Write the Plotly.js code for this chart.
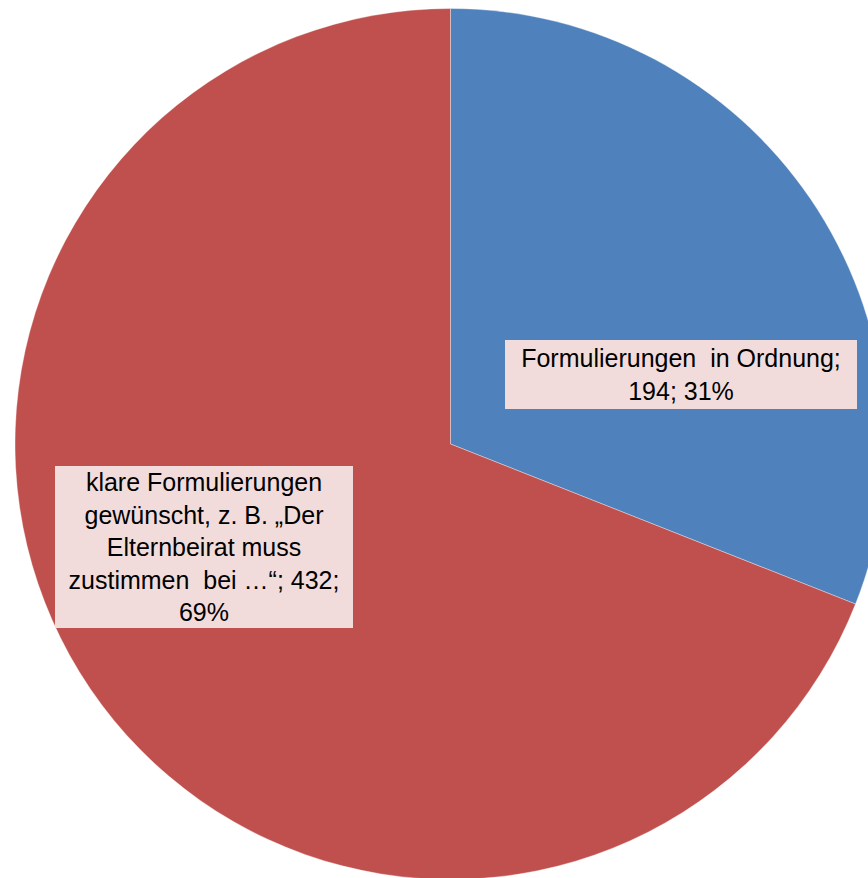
<!DOCTYPE html>
<html>
<head>
<meta charset="utf-8">
<script src="https://cdn.plot.ly/plotly-3.0.1.min.js"></script>
<style>
html, body { margin: 0; padding: 0; overflow: hidden; background: #ffffff; }
#chart { width: 900px; height: 880px; }
</style>
</head>
<body>
<div id="chart"></div>
<script>
// Data
const categories = [
  "Formulierungen  in Ordnung",
  "klare Formulierungen gewünscht, z. B. „Der Elternbeirat muss zustimmen bei …“"
];
const labelLines = [
  ["Formulierungen  in Ordnung;"],
  ["klare Formulierungen", "gewünscht, z. B. „Der", "Elternbeirat muss", "zustimmen  bei …“;"]
];
const values = [194, 432];
const colors = ["#4F81BD", "#C0504D"];

const total = values.reduce((a, b) => a + b, 0);
const pct = values.map(v => Math.round(100 * v / total));

// label texts built from the data
const texts = [
  labelLines[0].join("<br>") + "<br>" + values[0] + "; " + pct[0] + "%",
  labelLines[1].join("<br>") + " " + values[1] + ";<br>" + pct[1] + "%"
];

const W = 900, H = 880;
const trace = {
  type: "pie",
  labels: categories,
  values: values,
  sort: false,
  direction: "clockwise",
  rotation: 0,
  textinfo: "none",
  hoverinfo: "label+value+percent",
  marker: { colors: colors, line: { color: "rgba(255,255,255,0.35)", width: 1 } },
  domain: { x: [15 / W, 886 / W], y: [(H - 879.5) / H, (H - 8.5) / H] },
  showlegend: false
};

const font = { family: "Liberation Sans, Arial, sans-serif", size: 25, color: "#000000" };
const annotations = [
  { x: 681 / W, y: (H - 374.5) / H, text: texts[0], width: 348, height: 65, borderpad: 2 },
  { x: 204 / W, y: (H - 547) / H, text: texts[1], width: 296, height: 160, borderpad: 1 }
].map(a => Object.assign({
  xref: "paper", yref: "paper", xanchor: "center", yanchor: "middle",
  showarrow: false, bgcolor: "#F2DCDB", borderwidth: 0,
  align: "center", font: font
}, a));

Plotly.newPlot("chart", [trace], {
  width: W, height: H,
  margin: { l: 0, r: 0, t: 0, b: 0 },
  paper_bgcolor: "#ffffff",
  annotations: annotations
}, { displayModeBar: false, staticPlot: true });
</script>
</body>
</html>
